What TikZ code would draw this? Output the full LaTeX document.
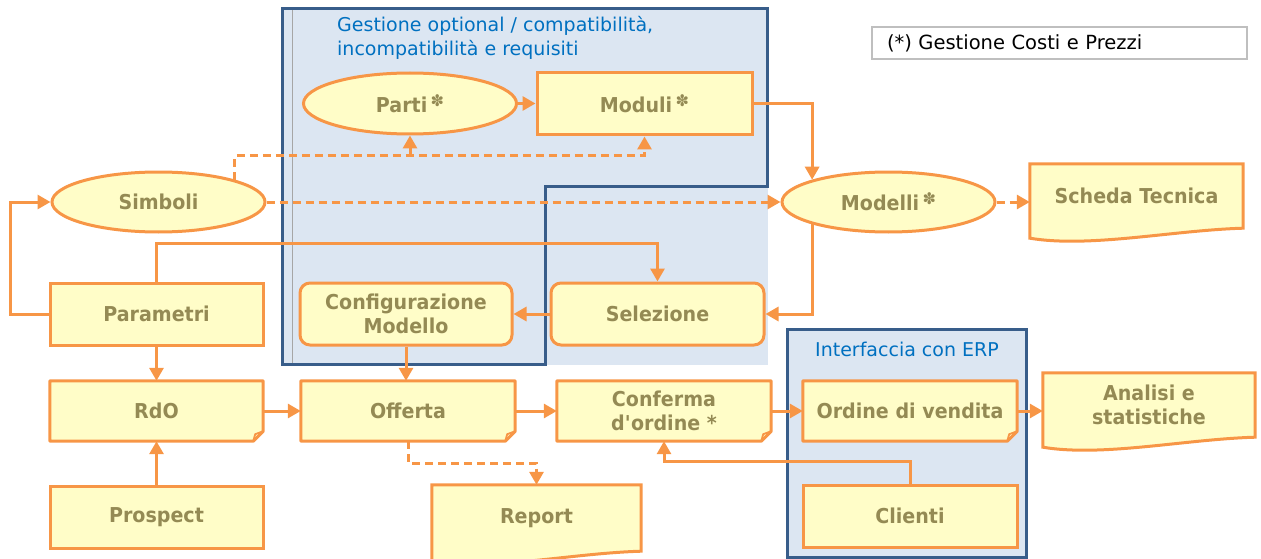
\documentclass[tikz,border=0pt]{standalone}
\usepackage{fontspec}
\setmainfont{DejaVu Sans}
\newfontfamily\symfont{DejaVu Sans}
\newfontfamily\lblfont{DejaVu Sans}[FakeStretch=0.93]
\usetikzlibrary{arrows.meta,calc,shapes.geometric}
\definecolor{boxfill}{HTML}{FFFDC8}
\definecolor{orng}{HTML}{F79646}
\definecolor{olive}{HTML}{948A54}
\definecolor{grpfill}{HTML}{DCE6F2}
\definecolor{grpline}{HTML}{385D8A}
\definecolor{ttl}{HTML}{0070C0}
\definecolor{lgd}{HTML}{BFBFBF}
\pgfdeclarelayer{grp}
\pgfdeclarelayer{shp}
\pgfsetlayers{grp,shp,main}
\newcommand{\mystar}{\,\raisebox{6pt}{\symfont\fontsize{16}{16}\selectfont ✽}}
\newcommand{\notebg}[1]{%
 \begin{pgfonlayer}{shp}
 \draw[orng, fill=boxfill, line width=3pt, line join=round] (#1.north west) -- (#1.north east) -- ([yshift=10pt]#1.south east) -- ([xshift=-10pt]#1.south east) -- (#1.south west) -- cycle;
 \draw[orng, line width=1.8pt] ([xshift=-10pt]#1.south east) -- ([xshift=-8pt,yshift=7pt]#1.south east) -- ([yshift=10pt]#1.south east);
 \end{pgfonlayer}}
\newcommand{\docbg}[1]{%
 \begin{pgfonlayer}{shp}
 \draw[orng, fill=boxfill, line width=3pt] (#1.north west) -- (#1.north east) -- (#1.south east) .. controls ([xshift=-70pt,yshift=-2pt]#1.south east) and ([xshift=60pt,yshift=-20pt]#1.south west) .. ([yshift=-10pt]#1.south west) -- cycle;
 \end{pgfonlayer}}
\tikzset{
 lbl/.style={font=\lblfont\fontsize{20.5}{24}\selectfont\bfseries, text=olive, align=center, inner sep=0pt},
 plain/.style={lbl, rectangle, draw=orng, fill=boxfill, line width=3pt},
 oval/.style={plain, ellipse},
 rbox/.style={plain, rounded corners=10pt},
 bare/.style={lbl, rectangle},
 ttlstyle/.style={font=\fontsize{19}{24}\selectfont, text=ttl, align=left, inner sep=0pt},
 conn/.style={draw=orng, line width=3pt, -{Triangle[length=13pt,width=14pt]}},
 dconn/.style={conn, dash pattern=on 8pt off 5pt},
}
\begin{document}
\begin{tikzpicture}[x=1pt,y=-1pt]
\useasboundingbox (0,0) rectangle (1261,559);
% groups
\begin{pgfonlayer}{grp}
\fill[grpfill] (282,9) rectangle (768,365);
\draw[gray!70, line width=0.7pt] (292,9) -- (292,364);
\draw[grpline, line width=3pt] (282,9) -- (767,9) -- (767,186) -- (545,186) -- (545,364) -- (282,364) -- cycle;
\filldraw[fill=grpfill, draw=grpline, line width=3pt] (787,329) rectangle (1026,557);
\end{pgfonlayer}
\node[ttlstyle, anchor=north west] (gtitle) at (337,16.5) {Gestione optional / compatibilità,\\incompatibilità e requisiti};
\node[ttlstyle, anchor=base] (etitle) at (907,356) {Interfaccia con ERP};
\node[draw=lgd, line width=1.8pt, fill=white, minimum width=375pt, minimum height=32pt, text width=345pt, align=left, inner sep=0pt, font=\fontsize{19.5}{23}\selectfont] (legend) at (1059.5,43) {(*) Gestione Costi e Prezzi};
% nodes
\node[oval, minimum width=213pt, minimum height=61pt] (Parti) at (410,103.5) {Parti\mystar};
\node[plain, minimum width=215pt, minimum height=62pt] (Moduli) at (644.5,104) {Moduli\mystar};
\node[oval, minimum width=213pt, minimum height=60pt] (Simboli) at (158.5,202) {Simboli};
\node[oval, minimum width=213pt, minimum height=60pt] (Modelli) at (888.5,202) {Modelli\mystar};
\node[bare, minimum width=213pt, minimum height=64pt] (Scheda) at (1136.5,196) {Scheda Tecnica};
\docbg{Scheda}
\node[plain, minimum width=213pt, minimum height=62pt] (Parametri) at (156.5,314) {Parametri};
\node[rbox, minimum width=212pt, minimum height=62pt] (Config) at (406,314) {Configurazione\\Modello};
\node[rbox, minimum width=213pt, minimum height=62pt] (Selezione) at (657.5,314) {Selezione};
\node[bare, minimum width=213pt, minimum height=60pt] (RdO) at (156.5,411) {RdO};
\notebg{RdO}
\node[bare, minimum width=214pt, minimum height=60pt] (Offerta) at (408,411) {Offerta};
\notebg{Offerta}
\node[bare, minimum width=214pt, minimum height=60pt] (Conferma) at (664,411) {Conferma\\d\textquotesingle ordine *};
\notebg{Conferma}
\node[bare, minimum width=214pt, minimum height=60pt] (Ordine) at (910,411) {Ordine di vendita};
\notebg{Ordine}
\node[bare, minimum width=212pt, minimum height=64pt] (Analisi) at (1149,405) {Analisi e\\statistiche};
\docbg{Analisi}
\node[plain, minimum width=213pt, minimum height=62pt] (Prospect) at (156.5,517) {Prospect};
\node[bare, minimum width=209pt, minimum height=66pt] (Report) at (536.5,518) {Report};
\docbg{Report}
\node[plain, minimum width=214pt, minimum height=62pt] (Clienti) at (910,516) {Clienti};
% connectors
\draw[conn] (Parti.east) -- (Parti.east -| Moduli.west);
\draw[conn] (Moduli.east) -| (Modelli.north west);
\draw[conn] (Modelli.south west) |- (Selezione.east);
\draw[conn] (Selezione.west) -- (Config.east);
\draw[conn] (Config.south) -- (Config.south |- Offerta.north);
\draw[conn] (Parametri.west) -- ++(-38,0) |- (Simboli.west);
\draw[conn] (Parametri.north) -- ++(0,-38) -| (Selezione.north);
\draw[conn] (Parametri.south) -- (RdO.north);
\draw[conn] (Prospect.north) -- (RdO.south);
\draw[conn] (RdO.east) -- (Offerta.west);
\draw[conn] (Offerta.east) -- (Conferma.west);
\draw[conn] (Conferma.east) -- (Ordine.west);
\draw[conn] (Ordine.east) -- (Ordine.east -| Analisi.west);
\draw[conn] (Clienti.north) -- ++(0,-22) -| (Conferma.south);
\draw[dconn] (Simboli.east) -- (Modelli.west);
\draw[dconn] (Modelli.east) -- (Modelli.east -| Scheda.west);
\path (Simboli.north east) ++(0,-24) coordinate (sj);
\draw[dconn] (Simboli.north east) -- (sj) -| (Moduli.south);
\draw[dconn] (sj -| Parti.south) -- (Parti.south);
\draw[dconn] (Offerta.south) -- ++(0,22) -| (Report.north);
\end{tikzpicture}
\end{document}
